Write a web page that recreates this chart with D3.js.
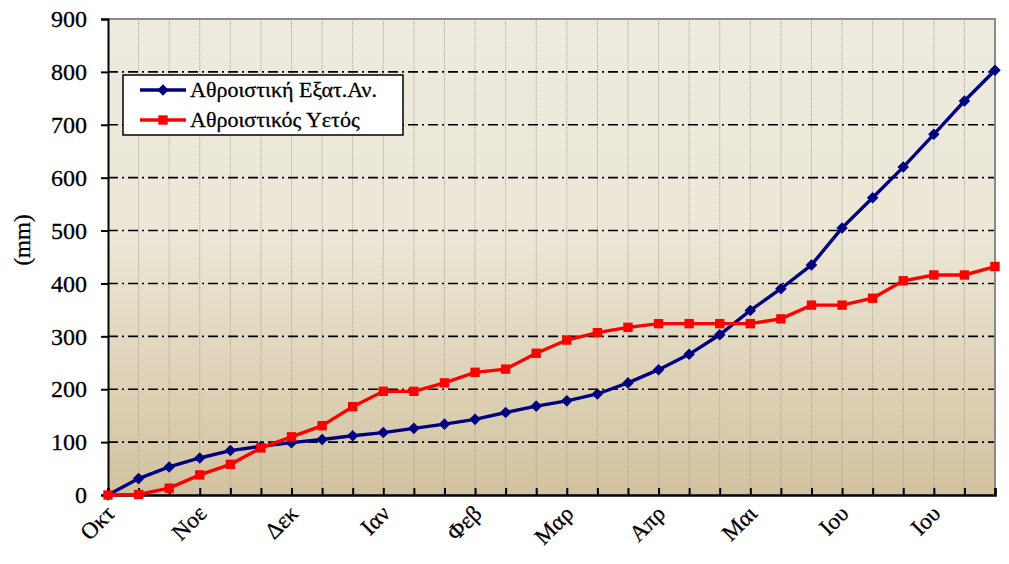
<!DOCTYPE html>
<html><head><meta charset="utf-8">
<script src="https://cdn.jsdelivr.net/npm/d3@7"></script>
<style>body{margin:0;background:#fff;}svg{display:block;}</style>
</head><body>
<svg id="c" width="1009" height="564"></svg>
<script>
const evap = [0, 31, 53, 70, 84, 92, 99, 105, 112, 118, 126, 134, 143, 156, 168, 178, 191, 212, 237, 266, 303, 349, 390, 435, 505, 562, 620, 682, 745, 803];
const rain = [0, 1, 13, 38, 58, 89, 110, 131, 167, 196, 196, 212, 232, 238, 268, 293, 307, 317, 324, 324, 324, 324, 333, 359, 359, 372, 405, 416, 416, 432];
const monthLabels = ["Οκτ","Νοε","Δεκ","Ιαν","Φεβ","Μαρ","Απρ","Μαι","Ιου","Ιου"];
const yTicks = [0,100,200,300,400,500,600,700,800,900];
const seriesNames = ["Αθροιστική Εξατ.Αν.", "Αθροιστικός Υετός"];

const svg = d3.select("#c");
const L = 108, R = 995, T = 19, B = 495;
const idx = d3.range(evap.length);
const x = d3.scaleLinear().domain([0, evap.length - 1]).range([L, R]);
const y = d3.scaleLinear().domain([0, 900]).range([B, T]);
const font = "'Liberation Serif', serif";

const defs = svg.append("defs");
const g = defs.append("linearGradient").attr("id","bg").attr("x1",0).attr("y1",0).attr("x2",0).attr("y2",1);
g.append("stop").attr("offset","0%").attr("stop-color","#EDEADF");
g.append("stop").attr("offset","45%").attr("stop-color","#ECE7D6");
g.append("stop").attr("offset","100%").attr("stop-color","#D2C29F");
svg.append("rect").attr("x",L).attr("y",T).attr("width",R-L).attr("height",B-T).attr("fill","url(#bg)");

// vertical dotted grid
svg.append("g").selectAll("line").data(idx.slice(1)).join("line")
  .attr("x1",d=>x(d)).attr("x2",d=>x(d)).attr("y1",T).attr("y2",B)
  .attr("stroke","#A8A290").attr("stroke-width",1).attr("stroke-dasharray","1,1");

// horizontal dash-dot grid
svg.append("g").selectAll("line").data(yTicks.filter(v=>v>0 && v<900)).join("line")
  .attr("x1",L).attr("x2",R).attr("y1",d=>y(d)).attr("y2",d=>y(d))
  .attr("stroke","#000").attr("stroke-width",1.6).attr("stroke-dasharray","10,4,2,4");

// top/right border
svg.append("path").attr("d",`M${L},${T}H${R}V${B}`).attr("fill","none").attr("stroke","#8a8a8a").attr("stroke-width",2);

// y axis
const ya = svg.append("g").attr("transform",`translate(${L},0)`)
  .call(d3.axisLeft(y).tickValues(yTicks).tickSize(7).tickPadding(14));
ya.select(".domain").attr("stroke","#000").attr("stroke-width",2);
ya.selectAll(".tick line").attr("stroke","#000").attr("stroke-width",2);
ya.selectAll(".tick text").attr("font-family",font).attr("font-size",24).attr("fill","#000")
  .attr("stroke","#000").attr("stroke-width",0.3);

// x axis with inward ticks
const xa = svg.append("g").attr("transform",`translate(0,${B})`)
  .call(d3.axisBottom(x).tickValues(idx).tickSize(-7).tickFormat(""));
xa.select(".domain").attr("stroke","#000").attr("stroke-width",2.5);
xa.selectAll(".tick line").attr("stroke","#000").attr("stroke-width",2);

// month labels
svg.append("g").selectAll("text").data(monthLabels).join("text")
  .attr("transform",(d,i)=>`translate(${x(i*3)+8},${B+20}) rotate(-45)`)
  .attr("text-anchor","end").attr("font-family",font).attr("font-size",23).attr("fill","#000")
  .attr("stroke","#000").attr("stroke-width",0.3)
  .text(d=>d);

// y label
svg.append("text").attr("transform",`translate(30,240) rotate(-90)`)
  .attr("text-anchor","middle").attr("font-family",font).attr("font-size",23)
  .attr("stroke","#000").attr("stroke-width",0.3).text("(mm)");

const line = d3.line().x((d,i)=>x(i)).y(d=>y(d));
const diamond = d3.symbol().type(d3.symbolDiamond2).size(85);
const square = d3.symbol().type(d3.symbolSquare).size(88);

svg.append("path").datum(evap).attr("d",line).attr("fill","none").attr("stroke","#000080").attr("stroke-width",3.4);
svg.append("g").selectAll("path").data(evap).join("path")
  .attr("transform",(d,i)=>`translate(${x(i)},${y(d)})`).attr("d",diamond).attr("fill","#000080");
svg.append("path").datum(rain).attr("d",line).attr("fill","none").attr("stroke","#FF0000").attr("stroke-width",3.4);
svg.append("g").selectAll("path").data(rain).join("path")
  .attr("transform",(d,i)=>`translate(${x(i)},${y(d)})`).attr("d",square).attr("fill","#FF0000");

// legend
const lg = svg.append("g");
lg.append("rect").attr("x",123).attr("y",75).attr("width",280).attr("height",60)
  .attr("fill","#fff").attr("stroke","#000").attr("stroke-width",1.5);
const cols = ["#000080","#FF0000"], syms=[diamond,square];
seriesNames.forEach((n,i)=>{
  const yy = 90 + i*30;
  lg.append("line").attr("x1",140).attr("x2",186).attr("y1",yy).attr("y2",yy).attr("stroke",cols[i]).attr("stroke-width",3.4);
  lg.append("path").attr("transform",`translate(163,${yy})`).attr("d",syms[i]).attr("fill",cols[i]);
  lg.append("text").attr("x",190).attr("y",yy+7).attr("font-family",font).attr("font-size",22)
    .attr("stroke","#000").attr("stroke-width",0.3).text(n);
});
</script>
</body></html>
